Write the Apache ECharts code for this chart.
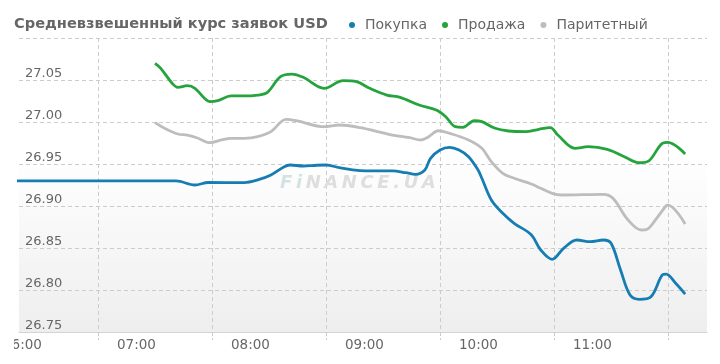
<!DOCTYPE html>
<html><head><meta charset="utf-8">
<script src="https://cdn.jsdelivr.net/npm/echarts@6/dist/echarts.min.js"></script>
<style>html,body{margin:0;padding:0;background:#fff}#c{width:720px;height:364px}</style>
</head><body><div id="c"></div>
<script>
const titleText = 'Средневзвешенный курс заявок USD';
const seriesNames = ['Покупка', 'Продажа', 'Паритетный'];
const xTickLabels = ['06:00', '07:00', '08:00', '09:00', '10:00', '11:00'];
const xGridTimes = ['06:39', '07:39', '08:39', '09:39', '10:39', '11:39'];
const yTicks = [26.75, 26.80, 26.85, 26.90, 26.95, 27.00, 27.05, 27.10];

const buyTimes = ['05:50','07:20','07:30','07:37','07:56','08:03','08:10','08:17','08:20','08:27','08:34','08:39','08:46','08:53','09:00','09:14','09:21','09:26','09:31','09:34','09:39','09:44','09:49','09:54','09:59','10:01','10:06','10:12','10:18','10:27','10:32','10:38','10:44','10:51','10:58','11:05','11:09','11:14','11:19','11:24','11:30','11:36','11:38','11:43','11:48'];
const buyValues = [26.9298,26.9298,26.9250,26.9280,26.9278,26.9310,26.9369,26.9468,26.9488,26.9476,26.9485,26.9488,26.9456,26.9429,26.9417,26.9417,26.9396,26.9377,26.9429,26.9568,26.9667,26.9699,26.9667,26.9587,26.9429,26.9330,26.9071,26.8913,26.8794,26.8658,26.8476,26.8365,26.8496,26.8595,26.8575,26.8595,26.8556,26.8238,26.7940,26.7889,26.7920,26.8179,26.8190,26.8080,26.7952];

const sellTimes = ['07:09','07:12','07:18','07:21','07:26','07:30','07:35','07:38','07:42','07:49','07:56','08:03','08:08','08:15','08:21','08:27','08:38','08:48','08:55','09:02','09:11','09:18','09:28','09:37','09:42','09:47','09:51','09:57','10:01','10:08','10:15','10:24','10:31','10:37','10:41','10:50','10:57','11:07','11:16','11:24','11:29','11:36','11:39','11:48'];
const sellValues = [27.0699,27.0639,27.0461,27.0413,27.0432,27.0401,27.0282,27.0242,27.0254,27.0310,27.0310,27.0321,27.0349,27.0539,27.0571,27.0532,27.0401,27.0492,27.0480,27.0401,27.0321,27.0294,27.0202,27.0143,27.0063,26.9944,26.9937,27.0015,27.0004,26.9925,26.9893,26.9885,26.9913,26.9932,26.9845,26.9687,26.9706,26.9675,26.9587,26.9515,26.9539,26.9746,26.9758,26.9619];

const parTimes = ['07:09','07:14','07:21','07:26','07:31','07:38','07:44','07:49','07:56','08:03','08:10','08:18','08:24','08:38','08:46','08:57','09:12','09:23','09:29','09:33','09:38','09:44','09:54','10:01','10:06','10:12','10:18','10:27','10:32','10:38','10:43','11:05','11:10','11:18','11:25','11:28','11:33','11:38','11:39','11:48'];
const parValues = [26.9992,26.9925,26.9857,26.9845,26.9813,26.9754,26.9786,26.9806,26.9806,26.9825,26.9885,27.0032,27.0012,26.9944,26.9964,26.9932,26.9854,26.9813,26.9786,26.9825,26.9896,26.9865,26.9786,26.9687,26.9527,26.9389,26.9330,26.9262,26.9211,26.9151,26.9131,26.9139,26.9092,26.8833,26.8714,26.8723,26.8854,26.9003,26.9011,26.8786];

const colors = ['#167db3', '#25a43d', '#bdbdbd'];

function toMin(s) { const p = s.split(':'); return (+p[0] - 6) * 60 + (+p[1]); }
function fmtMin(v) {
  const h = 6 + Math.floor(Math.round(v) / 60), m = Math.round(v) - (h - 6) * 60;
  return (h < 10 ? '0' : '') + h + ':' + (m < 10 ? '0' : '') + m;
}
function pairs(ts, vs) { return ts.map((t, i) => [toMin(t), vs[i]]); }

const FONT = 'DejaVu Sans';
const TS = '\u2009';
const chart = echarts.init(document.getElementById('c'), null, { renderer: 'canvas' });
const mk = (name, ts, vs, c) => ({
  name, type: 'line', data: pairs(ts, vs), smooth: 0.35, showSymbol: false, symbol: 'circle',
  lineStyle: { color: c, width: 2.8 }, itemStyle: { color: c }, clip: true, z: 3
});
chart.setOption({
  animation: false,
  title: {
    text: titleText, left: 14, top: 17, padding: 0,
    textStyle: { fontFamily: FONT, fontSize: 14.6, fontWeight: 'bold', color: '#666' }
  },
  legend: {
    left: 349, top: 18, padding: 0, itemGap: 15, itemWidth: 6, itemHeight: 6, icon: 'circle',
    data: seriesNames,
    textStyle: { fontFamily: FONT, fontSize: 14, color: '#666', padding: [0, 0, 0, 5] }
  },
  grid: {
    left: 13, right: 13, top: 38, bottom: 32, show: true, borderWidth: 0,
    backgroundColor: { type: 'linear', x: 0, y: 0, x2: 0, y2: 1,
      colorStops: [{ offset: 0, color: '#ffffff' }, { offset: 0.4, color: '#ffffff' }, { offset: 1, color: '#eeeeee' }] }
  },
  xAxis: {
    type: 'value', min: -2.6, max: 359.5,
    axisLine: { show: true, lineStyle: { color: '#d4d4d4', width: 1 } },
    axisTick: { show: true, length: 8, customValues: xGridTimes.map(toMin), lineStyle: { color: '#cccccc', type: 'dashed' } },
    splitLine: { show: true, lineStyle: { color: '#cccccc', type: [4, 3] } },
    axisLabel: { customValues: xTickLabels.map(toMin), formatter: fmtMin, margin: 6, padding: [0, 3, 0, 0],
      fontFamily: FONT, fontSize: 13.5, color: '#666' }
  },
  yAxis: {
    type: 'value', min: yTicks[0], max: yTicks[yTicks.length - 1], interval: 0.05,
    axisLine: { show: false }, axisTick: { show: false },
    splitLine: { show: true, lineStyle: { color: '#cccccc', type: [4, 3] } },
    axisLabel: { inside: true, margin: 6, verticalAlign: 'bottom', showMaxLabel: false,
      formatter: v => (v > 27.09 ? '' : v.toFixed(2)),
      fontFamily: FONT, fontSize: 13, color: '#666' }
  },
  graphic: [
    { type: 'text', left: 280, top: 174, z: 1,
      style: { text: '{a|F' + TS + 'i' + TS + '}{b|' + 'NANCE.UA'.split('').join(TS) + '}', rich: {
        a: { fontFamily: FONT, fontStyle: 'italic', fontWeight: 'bold', fontSize: 18, fill: '#d3e3e1' },
        b: { fontFamily: FONT, fontStyle: 'italic', fontWeight: 'bold', fontSize: 18, fill: '#dedede' } } } },
    { type: 'rect', left: 0, top: 334, z: 100, shape: { width: 14, height: 20 }, style: { fill: '#ffffff' } }
  ],
  series: [
    mk(seriesNames[0], buyTimes, buyValues, colors[0]),
    mk(seriesNames[1], sellTimes, sellValues, colors[1]),
    mk(seriesNames[2], parTimes, parValues, colors[2])
  ]
});
</script></body></html>
